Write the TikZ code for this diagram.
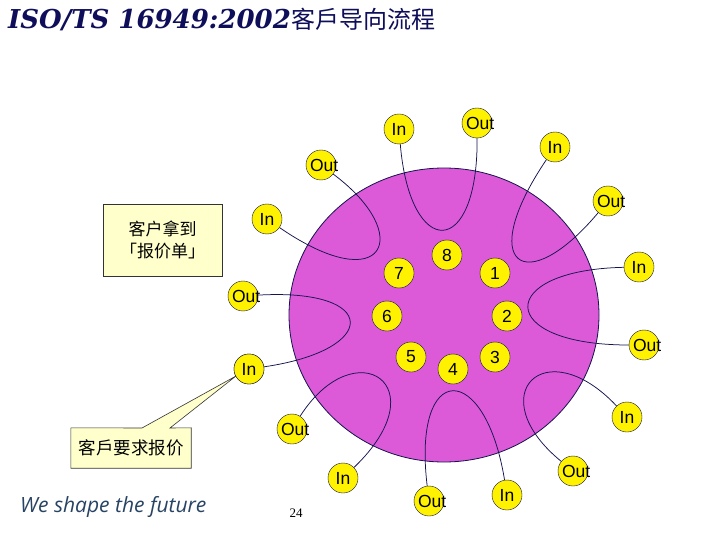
\documentclass[tikz,border=0pt]{standalone}
\usepackage{fontspec}
\setmainfont{Liberation Sans}
\newfontfamily\cjk{Noto Sans CJK SC}
\newfontfamily\titlefont{DejaVu Serif}
\newfontfamily\sloganfont{Open Sans}
\newfontfamily\pagefont{Liberation Serif}
\definecolor{orbfill}{RGB}{220,90,215}
\definecolor{ink}{RGB}{20,20,80}
\definecolor{notefill}{RGB}{255,255,204}
\definecolor{titlenavy}{RGB}{14,14,90}
\definecolor{slogancol}{RGB}{40,68,100}
\tikzset{
  io/.style={circle, draw=ink, fill=yellow, minimum size=30pt, inner sep=0pt,
    font=\fontsize{17.5}{17.5}\selectfont},
  numnode/.style={io},
  flow/.style={draw=ink, line width=0.75pt},
  note/.style={draw=black!80, fill=notefill, line width=0.6pt, inner sep=0pt},
}
\newcommand{\outtxt}{\makebox[22pt][l]{Out}}
\begin{document}
\begin{tikzpicture}[x=1pt,y=-1pt]
\fill[white] (0,0) rectangle (720,540);
\useasboundingbox (0,0) rectangle (720,540);

% title
\node[anchor=base west, inner sep=0pt, text=titlenavy, font=\titlefont\bfseries\itshape\fontsize{26}{26}\selectfont] (title) at (8,29) {ISO/TS 16949:2002};
\node[anchor=base west, inner sep=0pt, text=titlenavy, font=\cjk\fontsize{24}{24}\selectfont] (titlecjk) at (title.base east) {客戶导向流程};

% big circle
\draw[draw=ink, fill=orbfill, line width=0.8pt] (444,315) ellipse [x radius=155, y radius=147];

% I/O nodes
\node[io] (i8) at (399,129) {In};
\node[io] (o8) at (477,123) {\outtxt};
\node[io] (i1) at (555,147) {In};
\node[io] (o1) at (608,201) {\outtxt};
\node[io] (i2) at (639,267) {In};
\node[io] (o2) at (644,345) {\outtxt};
\node[io] (i3) at (627,417) {In};
\node[io] (o3) at (573,471) {\outtxt};
\node[io] (i4) at (507,495) {In};
\node[io] (o4) at (429,501) {\outtxt};
\node[io] (i5) at (343,478) {In};
\node[io] (o5) at (292,429) {\outtxt};
\node[io] (i6) at (249,369) {In};
\node[io] (o6) at (243,296) {\outtxt};
\node[io] (i7) at (267,219) {In};
\node[io] (o7) at (321,165) {\outtxt};

% loops
\draw[flow] (i8) .. controls (410,260) and (478,260) .. (o8);
\draw[flow] (i1) .. controls (475,265) and (525,300) .. (o1);
\draw[flow] (i2) .. controls (495,270) and (495,345) .. (o2);
\draw[flow] (i3) .. controls (545,330) and (480,395) .. (o3);
\draw[flow] (i4) .. controls (485,360) and (412,360) .. (o4);
\draw[flow] (i5) .. controls (440,385) and (355,330) .. (o5);
\draw[flow] (i6) .. controls (380,350) and (380,288) .. (o6);
\draw[flow] (i7) .. controls (385,300) and (415,235) .. (o7);

% numbered nodes
\node[numnode] (n8) at (447,255) {8};
\node[numnode] (n7) at (399,273) {7};
\node[numnode] (n1) at (495,273) {1};
\node[numnode] (n6) at (387,316) {6};
\node[numnode] (n2) at (507,316) {2};
\node[numnode] (n5) at (411,357) {5};
\node[numnode] (n4) at (453,369) {4};
\node[numnode] (n3) at (495,357) {3};

% note: quotation received
\node[note, minimum width=119pt, minimum height=72pt, align=center,
  font=\cjk\fontsize{17}{22}\selectfont] (quote) at (162.5,240) {客户拿到\\「报价单」};

% callout: customer request
\coordinate (tip) at (236,376);
\node[inner sep=0pt, minimum width=120pt, minimum height=40pt] (ask) at (131,448) {};
\draw[note] (ask.north west) -- (142,428) -- (tip) -- (170,428) -- (ask.north east)
  -- (ask.south east) -- (ask.south west) -- cycle;
\node[inner sep=0pt, font=\cjk\fontsize{17.5}{17.5}\selectfont] (asktext) at (ask.center) {客戶要求报价};
\node[io] at (i6) {In};

% footer
\node[anchor=base west, inner sep=0pt, text=slogancol, font=\sloganfont\itshape\fontsize{21}{21}\selectfont] (slogan) at (20,512) {We shape the future};
\node[anchor=base, inner sep=0pt, font=\pagefont\fontsize{13}{13}\selectfont] (page) at (296,517) {24};
\end{tikzpicture}
\end{document}
